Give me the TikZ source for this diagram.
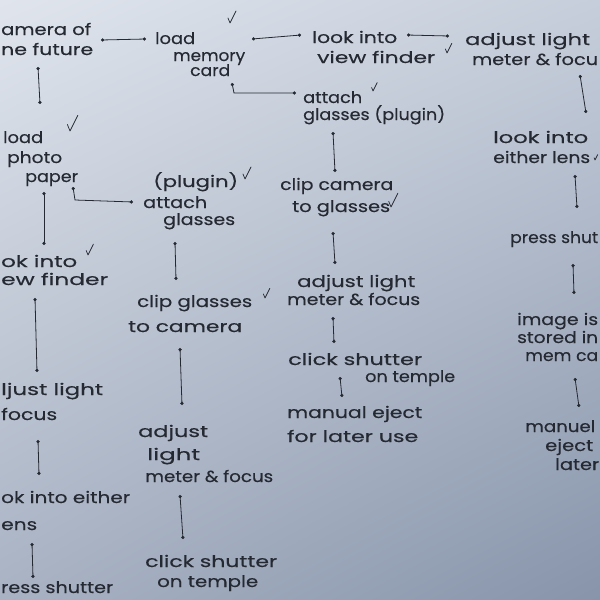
\documentclass[tikz,border=0pt]{standalone}
\usepackage{fontspec}
\usepackage{graphicx}
\newfontfamily\hand{Poppins}[FakeBold=0.3]
\usetikzlibrary{arrows.meta,shadings}
\definecolor{ink}{HTML}{252932}
\definecolor{paperUL}{HTML}{E0E5ED}
\definecolor{paperUR}{HTML}{C6CEDB}
\definecolor{paperLL}{HTML}{A8B2C3}
\definecolor{paperLR}{HTML}{8794AA}
\newcommand\stk[2][19pt]{\vtop{\baselineskip=#1\lineskiplimit=-50pt\lineskip=0pt #2}}
% row: [left kern]{width in pt}{text}
\newcommand\Lrow[3][0]{\hbox{\kern#1pt\resizebox{#2pt}{\height}{#3}}}
\tikzset{
  txt/.style={inner sep=0pt, anchor=base west, text=ink, font=\hand\fontsize{16}{19}\selectfont},
  conn/.style={draw=ink, line width=0.8pt, {Circle[length=3.2pt]}-{Circle[length=3.2pt]}},
  chk/.pic={\draw[ink,line width=0.7pt,line cap=round,line join=round] (-2,-5) -- (0,0) -- (6,-12);}
}
\begin{document}
\begin{tikzpicture}[x=1pt,y=-1pt]
\useasboundingbox (0,0) rectangle (600,600);
\clip (0,0) rectangle (600,600);
\shade[upper left=paperUL, upper right=paperUR, lower left=paperLL, lower right=paperLR] (0,0) rectangle (600,600);

% ---------- nodes ----------
\node[txt] (cam) at (1,35) {\stk[20pt]{\Lrow{90}{amera of}\Lrow{92}{ne future}}};
\node[txt] (mem) at (155,44) {\stk[17pt]{\Lrow{40}{load}\Lrow[18]{72}{memory}\vskip-2pt\Lrow[35]{40}{card}}};
\node[txt] (vf1) at (312,43) {\stk[20pt]{\Lrow{85}{look into}\Lrow[5]{118}{view finder}}};
\node[txt] (adj1) at (465,45) {\stk[20pt]{\Lrow{125}{adjust light}\Lrow[7]{126}{meter \& focu}}};
\node[txt] (att1) at (303,103) {\stk[17pt]{\Lrow{59}{attach}\Lrow{142}{glasses (plugin)}}};
\node[txt] (lens1) at (493,143) {\stk[20pt]{\Lrow{95}{look into}\Lrow{97}{either lens}}};
\node[txt] (press1) at (510,243) {\Lrow{88}{press shut}};
\node[txt] (img1) at (517,325) {\stk[18pt]{\Lrow{81}{image is}\Lrow{81}{stored in}\Lrow[8]{73}{mem ca}}};
\node[txt] (ej1) at (525,432) {\stk[19pt]{\Lrow{70}{manuel}\Lrow[20]{48}{eject}\Lrow[30]{44}{later}}};
\node[txt] (clipc) at (280,190) {\stk[22pt]{\Lrow{113}{clip camera}\Lrow[12]{98}{to glasses}}};
\node[txt] (adj2) at (297,287) {\stk[18pt]{\Lrow{118}{adjust light}\Lrow[-10]{133}{meter \& focus}}};
\node[txt] (click1) at (288,365) {\stk[17pt]{\Lrow{134}{click shutter}\Lrow[77]{90}{on temple}}};
\node[txt] (ej2) at (287,418) {\stk[24pt]{\Lrow{135}{manual eject}\Lrow{131}{for later use}}};
\node[txt] (photo) at (3,143) {\stk[20pt]{\Lrow{40}{load}\Lrow[4]{55}{photo}\vskip-1pt\Lrow[22]{53}{paper}}};
\node[txt] (att2) at (153,187) {\stk[19pt]{\Lrow{85}{(plugin)}\vskip2pt\Lrow[-10]{64}{attach}\vskip-2pt\Lrow[10]{72}{glasses}}};
\node[txt] (vf2) at (1,267) {\stk[18pt]{\Lrow{76}{ok into}\Lrow{107}{ew finder}}};
\node[txt] (adj3) at (1,395) {\stk[25pt]{\Lrow{102}{ljust light}\Lrow{56}{focus}}};
\node[txt] (lens2) at (1,503) {\stk[27pt]{\Lrow{129}{ok into either}\Lrow{36}{ens}}};
\node[txt] (press2) at (1,593) {\Lrow{112}{ress shutter}};
\node[txt] (clipg) at (137,307) {\stk[25pt]{\Lrow{115}{clip glasses}\Lrow[-9]{114}{to camera}}};
\node[txt] (adj4) at (138,437) {\stk[23pt]{\Lrow{70}{adjust}\Lrow[9]{53}{light}\vskip-1pt\Lrow[7]{128}{meter \& focus}}};
\node[txt] (click2) at (145,567) {\stk[20pt]{\Lrow{132}{click shutter}\Lrow[12]{101}{on temple}}};

% ---------- ticks ----------
\pic at (230,23) {chk};
\pic[scale=0.8] at (447,53) {chk};
\pic[scale=0.7] at (373,91) {chk};
\pic[scale=0.45] at (595,160) {chk};
\pic[scale=1.3] at (70,131) {chk};
\pic at (245,179) {chk};
\pic[scale=1.15] at (391,207) {chk};
\pic[scale=0.9] at (88,255) {chk};
\pic[scale=0.8] at (265,298) {chk};

% ---------- connector ends ----------
\coordinate (camR) at (101,40);   \coordinate (memL) at (146,39);
\coordinate (memR) at (252,39);   \coordinate (vf1L) at (301,35);
\coordinate (vf1R) at (407,35);   \coordinate (adj1L) at (449,36);
\coordinate (memB) at (232,83);   \coordinate (memK) at (234,93);  \coordinate (att1L) at (296,93);
\coordinate (adj1B) at (580,75);  \coordinate (lens1T) at (586,113);
\coordinate (lens1B) at (575,175);\coordinate (press1T) at (577,208);
\coordinate (press1B) at (573,264);\coordinate (img1T) at (574,294);
\coordinate (img1B) at (575,378); \coordinate (ej1T) at (579,407);
\coordinate (att1B) at (333,132); \coordinate (clipcT) at (335,172);
\coordinate (clipcB) at (333,232);\coordinate (adj2T) at (335,264);
\coordinate (adj2B) at (333,317); \coordinate (click1T) at (334,343);
\coordinate (click1B) at (340,377);\coordinate (ej2T) at (342,397);
\coordinate (camB) at (38,67);    \coordinate (photoT) at (40,104);
\coordinate (photoB) at (44,192); \coordinate (vf2T) at (44,245);
\coordinate (photoR) at (73,187); \coordinate (photoK) at (75,200); \coordinate (att2L) at (133,202);
\coordinate (att2B) at (175,242); \coordinate (clipgT) at (176,280);
\coordinate (vf2B) at (35,298);   \coordinate (adj3T) at (37,372);
\coordinate (adj3B) at (38,440);  \coordinate (lens2T) at (39,475);
\coordinate (lens2B) at (32,543); \coordinate (press2T) at (33,578);
\coordinate (clipgB) at (180,348);\coordinate (adj4T) at (182,405);
\coordinate (adj4B) at (180,495); \coordinate (click2T) at (183,539);

% ---------- connectors ----------
\draw[conn] (camR) -- (memL);
\draw[conn] (memR) -- (vf1L);
\draw[conn] (vf1R) -- (adj1L);
\draw[conn] (memB) -- (memK) -- (att1L);
\draw[conn] (adj1B) -- (lens1T);
\draw[conn] (lens1B) -- (press1T);
\draw[conn] (press1B) -- (img1T);
\draw[conn] (img1B) -- (ej1T);
\draw[conn] (att1B) -- (clipcT);
\draw[conn] (clipcB) -- (adj2T);
\draw[conn] (adj2B) -- (click1T);
\draw[conn] (click1B) -- (ej2T);
\draw[conn] (camB) -- (photoT);
\draw[conn] (photoB) -- (vf2T);
\draw[conn] (photoR) -- (photoK) -- (att2L);
\draw[conn] (att2B) -- (clipgT);
\draw[conn] (vf2B) -- (adj3T);
\draw[conn] (adj3B) -- (lens2T);
\draw[conn] (lens2B) -- (press2T);
\draw[conn] (clipgB) -- (adj4T);
\draw[conn] (adj4B) -- (click2T);
\end{tikzpicture}
\end{document}
